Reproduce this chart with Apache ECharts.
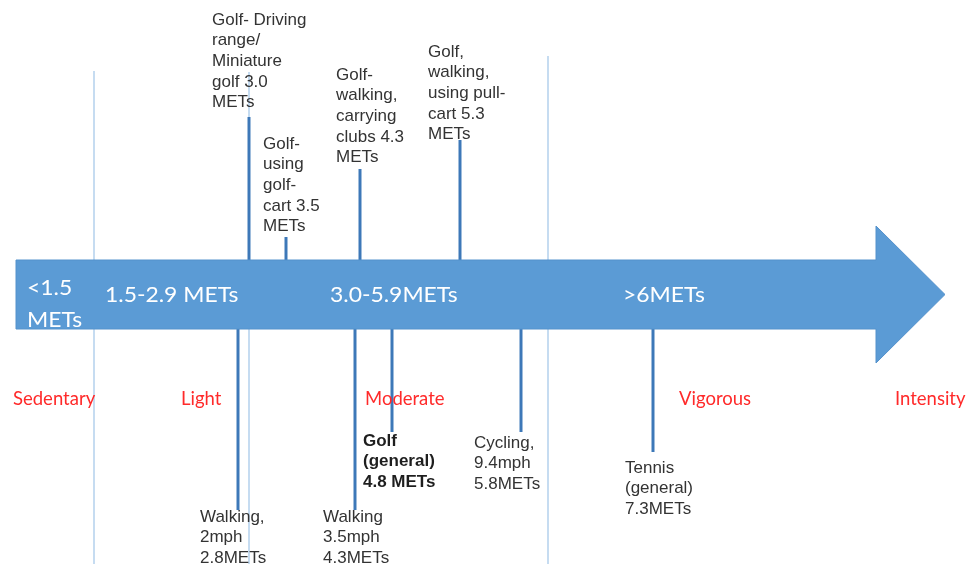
<!DOCTYPE html>
<html>
<head>
<meta charset="utf-8">
<script src="https://cdn.jsdelivr.net/npm/echarts/dist/echarts.min.js"></script>
<style>
html,body{margin:0;padding:0;background:#fff;}
#chart{width:966px;height:564px;}
</style>
</head>
<body>
<div id="chart"></div>
<script>
// ---- data ----
const bandLabels = ['<1.5\nMETs', '1.5-2.9 METs', '3.0-5.9METs', '>6METs'];
const intensityLabels = ['Sedentary', 'Light', 'Moderate', 'Vigorous', 'Intensity'];
const aboveNames = ['Golf- Driving\nrange/\nMiniature\ngolf', 'Golf-\nusing\ngolf-\ncart', 'Golf-\nwalking,\ncarrying\nclubs', 'Golf,\nwalking,\nusing pull-\ncart'];
const aboveMets = [3.0, 3.5, 4.3, 5.3];
const belowNames = ['Walking,\n2mph\n', 'Walking\n3.5mph\n', 'Golf\n(general)\n', 'Cycling,\n9.4mph\n', 'Tennis\n(general)\n'];
const belowMets = [2.8, 4.3, 4.8, 5.8, 7.3];
const belowUnitSep = ['', '', ' ', '', ''];
const boundaryMets = [1.5, 3.0, 6.0];

// ---- layout (diagram coordinates, not to scale) ----
const LH = 20.7;
const aboveX = [249, 286, 360, 460];
const aboveTop = [117, 237, 169, 140];
const aboveLabelPos = [[212, 20], [263, 144], [336, 75], [428, 52]];   // [left, first line centre]
const belowX = [238, 355, 392, 521, 653];
const belowEnd = [510, 510, 432, 432, 452];
const belowLabelPos = [[200, 517], [323, 517], [363, 441], [474, 443], [625, 468]];
const boundaryX = [94, 249, 548];
const boundaryTop = [71, 72, 56];
const bandPos = [[27, 304], [105, 295], [330, 295], [623, 295]];       // [left, centre]
const intensityPos = [[13, 399], [181, 399], [365, 399], [679, 399], [895, 399]];
const arrow = { x0: 16, x1: 876, tip: 945, top: 260, bottom: 329, headTop: 226, headBottom: 363 };

const chart = echarts.init(document.getElementById('chart'), null, { renderer: 'canvas' });

const textFont = '"Liberation Sans", Arial, sans-serif';
const calFont = 'Lato, "Open Sans", sans-serif';

function textSeries(name, items, styleFn, z) {
  return {
    type: 'custom', name: name, z: z,
    coordinateSystem: 'cartesian2d',
    data: items.map(function (it) { return [it.x, it.y]; }),
    renderItem: function (params, api) {
      const p = api.coord([api.value(0), api.value(1)]);
      const it = items[params.dataIndex];
      const s = styleFn(it);
      return {
        type: 'text', x: p[0], y: p[1] + (s.dy || 0), scaleX: s.scaleX || 1,
        style: {
          text: it.text, align: 'left', verticalAlign: s.verticalAlign || 'top',
          fill: s.fill, font: s.font, lineHeight: s.lineHeight
        }
      };
    },
    silent: true
  };
}

const aboveItems = aboveNames.map(function (n, i) {
  return { text: n + ' ' + aboveMets[i].toFixed(1) + '\nMETs', x: aboveLabelPos[i][0], y: aboveLabelPos[i][1] };
});
const belowItems = belowNames.map(function (n, i) {
  return { text: n + belowMets[i].toFixed(1) + belowUnitSep[i] + 'METs', x: belowLabelPos[i][0], y: belowLabelPos[i][1], bold: i === 2 };
});
const bandItems = bandLabels.map(function (t, i) { return { text: t, x: bandPos[i][0], y: bandPos[i][1] }; });
const intensityItems = intensityLabels.map(function (t, i) { return { text: t, x: intensityPos[i][0], y: intensityPos[i][1] }; });

const lineData = [];
boundaryX.forEach(function (x, i) { lineData.push({ v: [x, boundaryTop[i], 564], kind: 'light', met: boundaryMets[i] }); });
aboveX.forEach(function (x, i) { lineData.push({ v: [x, aboveTop[i], arrow.top], kind: 'dark', met: aboveMets[i] }); });
belowX.forEach(function (x, i) { lineData.push({ v: [x, arrow.bottom, belowEnd[i]], kind: 'dark', met: belowMets[i] }); });

const option = {
  animation: false,
  backgroundColor: '#ffffff',
  grid: { left: 0, right: 0, top: 0, bottom: 0 },
  xAxis: { type: 'value', min: 0, max: 966, show: false },
  yAxis: { type: 'value', min: 0, max: 564, inverse: true, show: false },
  series: [
    {
      type: 'custom', name: 'lines', z: 1, silent: true,
      data: lineData.map(function (d) { return d.v; }),
      renderItem: function (params, api) {
        const a = api.coord([api.value(0), api.value(1)]);
        const b = api.coord([api.value(0), api.value(2)]);
        const light = lineData[params.dataIndex].kind === 'light';
        return {
          type: 'line',
          shape: { x1: a[0], y1: a[1], x2: b[0], y2: b[1] },
          style: { stroke: light ? '#c6dcf1' : '#3d78b8', lineWidth: light ? 2 : 3 }
        };
      }
    },
    {
      type: 'custom', name: 'arrow', z: 2, silent: true,
      data: [[arrow.x0, arrow.x1, arrow.tip, arrow.top, arrow.bottom, arrow.headTop, arrow.headBottom]],
      renderItem: function (params, api) {
        const v = [0, 1, 2, 3, 4, 5, 6].map(function (k) { return api.value(k); });
        const mid = (v[3] + v[4]) / 2;
        const pts = [
          [v[0], v[3]], [v[1], v[3]], [v[1], v[5]], [v[2], mid],
          [v[1], v[6]], [v[1], v[4]], [v[0], v[4]]
        ].map(function (q) { return api.coord(q); });
        return { type: 'polygon', shape: { points: pts }, style: { fill: '#5b9bd5', stroke: '#5592cc', lineWidth: 1 } };
      }
    },
    textSeries('bands', bandItems, function () {
      return { fill: '#ffffff', font: '22px ' + calFont, lineHeight: 32, verticalAlign: 'middle', scaleX: 1.04 };
    }, 3),
    textSeries('intensity', intensityItems, function () {
      return { fill: '#ff2a2a', font: '18.5px ' + calFont, verticalAlign: 'middle' };
    }, 3),
    textSeries('above', aboveItems, function () {
      return { fill: '#333333', font: '17px ' + textFont, lineHeight: LH, dy: -LH / 2 };
    }, 3),
    textSeries('below', belowItems, function (it) {
      return { fill: it.bold ? '#1e1e1e' : '#333333', font: (it.bold ? 'bold ' : '') + '17px ' + textFont, lineHeight: LH, dy: -LH / 2 };
    }, 3)
  ]
};
chart.setOption(option);
</script>
</body>
</html>
